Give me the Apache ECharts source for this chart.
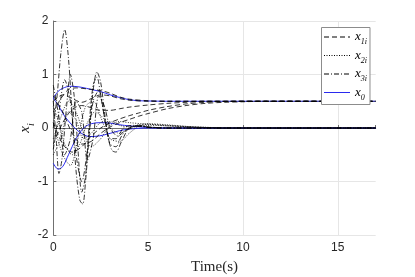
<!DOCTYPE html>
<html><head><meta charset="utf-8">
<script src="https://cdn.jsdelivr.net/npm/echarts@6/dist/echarts.min.js"></script>
<style>html,body{margin:0;padding:0;background:#fff}#c{width:415px;height:277px}</style>
</head><body><div id="c"></div>
<script>
// Tick values
const xTicks = [0, 5, 10, 15];
const yTicks = [-2, -1, 0, 1, 2];

// Leader x0 (three components)
const x0_a = [[0,0.56],[0.3,0.7],[0.7,0.77],[1,0.78],[1.5,0.76],[2,0.72],[2.5,0.68],[3,0.62],[3.5,0.57],[4,0.53],[4.5,0.51],[5,0.505],[6,0.5],[17,0.5]];
const x0_b = [[0,0.56],[0.3,0.4],[0.6,0.22],[1,0.05],[1.4,-0.08],[1.9,-0.16],[2.4,-0.15],[3,-0.1],[3.5,-0.05],[4,-0.02],[5,0],[17,0]];
const x0_c = [[0,-0.66],[0.25,-0.77],[0.5,-0.72],[0.8,-0.5],[1.2,-0.2],[1.6,0],[2,0.08],[2.5,0.1],[3,0.09],[3.5,0.06],[4,0.04],[5,0.01],[6,0],[17,0]];

// x_{1i} (dashed)
const x1_1 = [[0,0.3],[0.4,0.55],[0.8,0.72],[1.2,0.75],[1.8,0.73],[2.5,0.7],[3,0.65],[3.5,0.58],[4,0.54],[5,0.51],[6,0.5],[17,0.5]];
const x1_2 = [[0,0.1],[0.5,-0.3],[1,-0.45],[1.5,-0.35],[2,-0.15],[2.5,0],[3,0.1],[3.5,0.17],[4,0.23],[4.5,0.28],[5,0.33],[6,0.4],[7,0.45],[8,0.48],[9,0.495],[10,0.5],[17,0.5]];
const x1_3 = [[0,0.6],[0.5,0.3],[1,-0.1],[1.5,-0.3],[2,-0.25],[2.5,-0.1],[3,0.02],[3.5,0.1],[4,0.16],[4.5,0.22],[5,0.27],[6,0.36],[7,0.42],[8,0.46],[9,0.48],[10,0.49],[11,0.5],[17,0.5]];
const x1_4 = [[0,0.5],[0.5,0.62],[1,0.55],[1.5,0.48],[2,0.55],[2.5,0.62],[3,0.6],[3.5,0.55],[4,0.52],[5,0.5],[17,0.5]];
const x1_5 = [[0,-0.3],[0.5,0.1],[1,0.35],[1.5,0.42],[2,0.38],[2.5,0.33],[3,0.33],[3.5,0.36],[4,0.39],[5,0.43],[6,0.46],[7,0.48],[8,0.5],[17,0.5]];

// x_{2i} (dotted)
const x2_1 = [[0,0.4],[0.3,0.1],[0.6,-0.3],[1,-0.5],[1.4,-0.3],[1.8,0.1],[2.2,0.3],[2.6,0.2],[3,0],[3.5,-0.1],[4,0],[4.5,0.06],[5,0.08],[6,0.06],[7,0.03],[8,0.01],[9,0],[17,0]];
const x2_2 = [[0,-0.2],[0.4,0.2],[0.8,0.5],[1.2,0.3],[1.6,-0.1],[2,-0.35],[2.5,-0.2],[3,0.05],[3.5,0.12],[4,0.1],[5,0.07],[6,0.05],[7,0.03],[8,0.015],[9,0],[17,0]];
const x2_3 = [[0,0.1],[0.5,-0.5],[0.9,-0.7],[1.3,-0.2],[1.7,0.4],[2.1,0.5],[2.5,0.2],[3,-0.2],[3.5,-0.25],[4,-0.1],[4.5,0.03],[5,0.07],[6,0.04],[7,0.02],[8,0],[17,0]];
const x2_4 = [[0,-0.5],[0.4,-0.2],[0.8,0.3],[1.2,0.15],[1.6,-0.2],[2,-0.1],[2.5,0.1],[3,0.12],[3.5,0.05],[4,0.02],[5,0.05],[6,0.04],[8,0.01],[9,0],[17,0]];

// x_{3i} (dash-dot)
const x3_1 = [[0,0],[0.2,0.6],[0.4,1.4],[0.6,1.84],[0.8,1.3],[1,0.2],[1.2,-0.8],[1.4,-1.35],[1.55,-1.42],[1.7,-1.0],[1.9,-0.1],[2.1,0.7],[2.3,1.05],[2.5,0.85],[2.7,0.3],[2.9,-0.2],[3.1,-0.42],[3.3,-0.45],[3.6,-0.25],[4,0],[4.5,0.05],[5,0.02],[6,0],[17,0]];
const x3_2 = [[0,0.5],[0.15,-0.2],[0.3,-0.85],[0.45,-0.6],[0.7,0.4],[0.9,1.0],[1.1,0.6],[1.3,-0.4],[1.5,-1.2],[1.7,-0.9],[1.9,0.1],[2.1,0.8],[2.3,0.95],[2.5,0.6],[2.8,0],[3.0,-0.3],[3.3,-0.35],[3.6,-0.15],[4,0],[4.5,0.04],[5,0.02],[6,0],[17,0]];
const x3_3 = [[0,-0.4],[0.3,0.3],[0.6,0.9],[0.9,0.5],[1.2,-0.5],[1.5,-1.0],[1.8,-0.4],[2.1,0.5],[2.4,0.7],[2.7,0.2],[3,-0.2],[3.3,-0.2],[3.7,0],[4.2,0.05],[5,0.01],[6,0],[17,0]];
const x3_4 = [[0,0.8],[0.3,0.2],[0.6,-0.5],[0.9,-0.2],[1.2,0.5],[1.5,0.3],[1.8,-0.6],[2.1,-0.2],[2.4,0.6],[2.7,0.4],[3,0],[3.4,-0.15],[3.8,-0.05],[4.5,0.03],[5.5,0],[17,0]];

const groups = [
  {name: 'x1i', type: [5, 3], color: '#000', data: [x1_1, x1_2, x1_3, x1_4, x1_5]},
  {name: 'x2i', type: [1, 1.5], color: '#000', data: [x2_1, x2_2, x2_3, x2_4]},
  {name: 'x3i', type: [5, 2, 1, 2], color: '#000', data: [x3_1, x3_2, x3_3, x3_4]},
  {name: 'x0', type: 'solid', color: '#2a2aee', data: [x0_a, x0_b, x0_c]}
];

const series = [];
groups.forEach(g => {
  g.data.forEach(d => {
    series.push({
      name: g.name, type: 'line', data: d, smooth: 0.3, symbol: 'none', showSymbol: false,
      lineStyle: {color: g.color, width: g.name === 'x0' ? 1 : 0.8, type: g.type},
      itemStyle: {color: g.color}, animation: false, z: g.name === 'x0' ? 1 : 2
    });
  });
});

const legendLabels = {
  x1i: '{x|x}{s|1i}', x2i: '{x|x}{s|2i}', x3i: '{x|x}{s|3i}', x0: '{x|x}{s|0}'
};

const chart = echarts.init(document.getElementById('c'), null, {renderer: 'canvas'});
chart.setOption({
  animation: false,
  grid: {left: 53.3, right: 39.3, top: 21, bottom: 42, containLabel: false, outerBoundsMode: 'none'},
  xAxis: {
    type: 'value', min: 0, max: 17, interval: 5,
    name: 'Time(s)', nameLocation: 'middle', nameGap: 25, nameMoveOverlap: false,
    nameTextStyle: {fontFamily: 'Liberation Serif', fontSize: 15, color: '#262626', verticalAlign: 'top'},
    axisLine: {show: true, lineStyle: {color: '#707070', width: 1}},
    axisTick: {show: true, inside: true, length: 3, lineStyle: {color: '#707070'}},
    axisLabel: {color: '#262626', fontFamily: 'Liberation Sans', fontSize: 12, margin: 7,
      formatter: v => xTicks.includes(v) ? String(v) : ''},
    splitLine: {show: true, showMaxLine: false, lineStyle: {color: '#e6e6e6', width: 1}}
  },
  yAxis: {
    type: 'value', min: -2, max: 2, interval: 1,
    name: '{x|x}{s|i}', nameLocation: 'middle', nameGap: 21, nameRotate: 90, nameMoveOverlap: false,
    nameTextStyle: {verticalAlign: 'bottom', rich: {
      x: {fontFamily: 'Liberation Serif', fontStyle: 'italic', fontSize: 15, color: '#262626'},
      s: {fontFamily: 'Liberation Serif', fontStyle: 'italic', fontSize: 10, color: '#262626', verticalAlign: 'bottom', padding: [0,0,-4,0]}
    }},
    axisLine: {show: true, lineStyle: {color: '#707070', width: 1}},
    axisTick: {show: true, inside: true, length: 3, lineStyle: {color: '#707070'}},
    axisLabel: {color: '#262626', fontFamily: 'Liberation Sans', fontSize: 12, margin: 5,
      formatter: v => yTicks.includes(v) ? String(v) : ''},
    splitLine: {show: true, lineStyle: {color: '#e6e6e6', width: 1}}
  },
  legend: {
    data: ['x1i', 'x2i', 'x3i', 'x0'], orient: 'vertical', left: 321.5, top: 27.5,
    backgroundColor: '#fff', borderColor: '#8c8c8c', borderWidth: 1, borderRadius: 0,
    padding: [3, 3, 3, 2], itemGap: 3, itemWidth: 26, itemHeight: 10,
    selectedMode: false,
    itemStyle: {opacity: 0},
    lineStyle: {width: 1, inactiveWidth: 1},
    formatter: n => legendLabels[n],
    textStyle: {rich: {
      x: {fontFamily: 'Liberation Serif', fontStyle: 'italic', fontSize: 13, color: '#000', lineHeight: 12},
      s: {fontFamily: 'Liberation Serif', fontStyle: 'italic', fontSize: 8, color: '#000', verticalAlign: 'bottom', padding: [0,0,-3,0]}
    }}
  },
  series: series
});
</script></body></html>
